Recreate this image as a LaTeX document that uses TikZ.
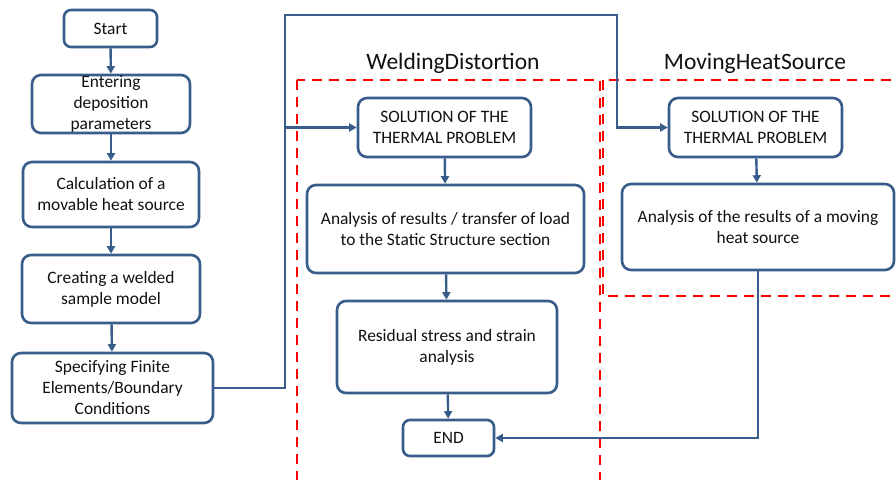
\documentclass[tikz,border=0pt]{standalone}
\usepackage{fontspec}
\setmainfont{Carlito}
\usetikzlibrary{arrows.meta}
\definecolor{boxblue}{HTML}{385D8A}
\definecolor{txt}{HTML}{111111}
\begin{document}
\begin{tikzpicture}[x=1pt,y=-1pt,
  fbox/.style={draw=boxblue,line width=2.6pt,rounded corners=9pt,fill=white,
    text=txt,align=center,inner sep=0pt,font=\fontsize{17.4}{21}\selectfont},
  conn/.style={draw=boxblue,line width=2.4pt,-{Triangle[length=7.5pt,width=8pt]}},
  region/.style={draw=red,line width=2.8pt,dash pattern=on 10pt off 7pt},
  ttl/.style={text=txt,font=\fontsize{23.5}{27}\selectfont,inner sep=0pt}]
\useasboundingbox (0,0) rectangle (896,479);
\clip (0,0) rectangle (896,479);
% regions
\draw[region] (297,80) rectangle (600,495);
\draw[region] (603,80) rectangle (905,296);
\node[ttl] (t1) at (453,63) {WeldingDistortion};
\node[ttl] (t2) at (755,63) {MovingHeatSource};
% left column
\node[fbox,minimum width=93pt,minimum height=37pt,rounded corners=7pt] (start) at (110.5,28.5) {Start};
\node[fbox,minimum width=158pt,minimum height=58pt] (enter) at (111,104) {Entering\\deposition\\parameters};
\node[fbox,minimum width=176pt,minimum height=65pt] (calc) at (111,194.5) {Calculation of a\\movable heat source};
\node[fbox,minimum width=178pt,minimum height=68pt] (create) at (111,289) {Creating a welded\\sample model};
\node[fbox,minimum width=201pt,minimum height=70pt] (spec) at (112.5,388) {Specifying Finite\\Elements/Boundary\\Conditions};
% welding distortion
\node[fbox,minimum width=173pt,minimum height=59pt] (sol1) at (444.5,127.5) {SOLUTION OF THE\\THERMAL PROBLEM};
\node[fbox,minimum width=277pt,minimum height=88pt] (an1) at (445.5,229) {Analysis of results / transfer of load\\to the Static Structure section};
\node[fbox,minimum width=220pt,minimum height=92pt] (res) at (447,347) {Residual stress and strain\\analysis};
\node[fbox,minimum width=91pt,minimum height=36pt,rounded corners=7pt] (end) at (448.5,438) {END};
% moving heat source
\node[fbox,minimum width=173pt,minimum height=59pt] (sol2) at (755.5,127.5) {SOLUTION OF THE\\THERMAL PROBLEM};
\node[fbox,minimum width=272pt,minimum height=86pt] (an2) at (758,227) {Analysis of the results of a moving\\heat source};
% connectors
\draw[conn] (start) -- (enter);
\draw[conn] (enter) -- (calc);
\draw[conn] (calc) -- (create);
\draw[conn] (create) -- (spec);
\coordinate (jx) at (285,15);
\coordinate (jy) at (617,15);
\draw[conn] (spec.east) -| (jx) -- (jy) |- (sol2.west);
\draw[conn] (sol1.west -| jx) -- (sol1.west);
\draw[conn] (sol1) -- (an1);
\draw[conn] (an1) -- (res);
\draw[conn] (res) -- (end);
\draw[conn] (sol2) -- (an2);
\draw[conn] (an2.south) |- (end.east);
\end{tikzpicture}
\end{document}
